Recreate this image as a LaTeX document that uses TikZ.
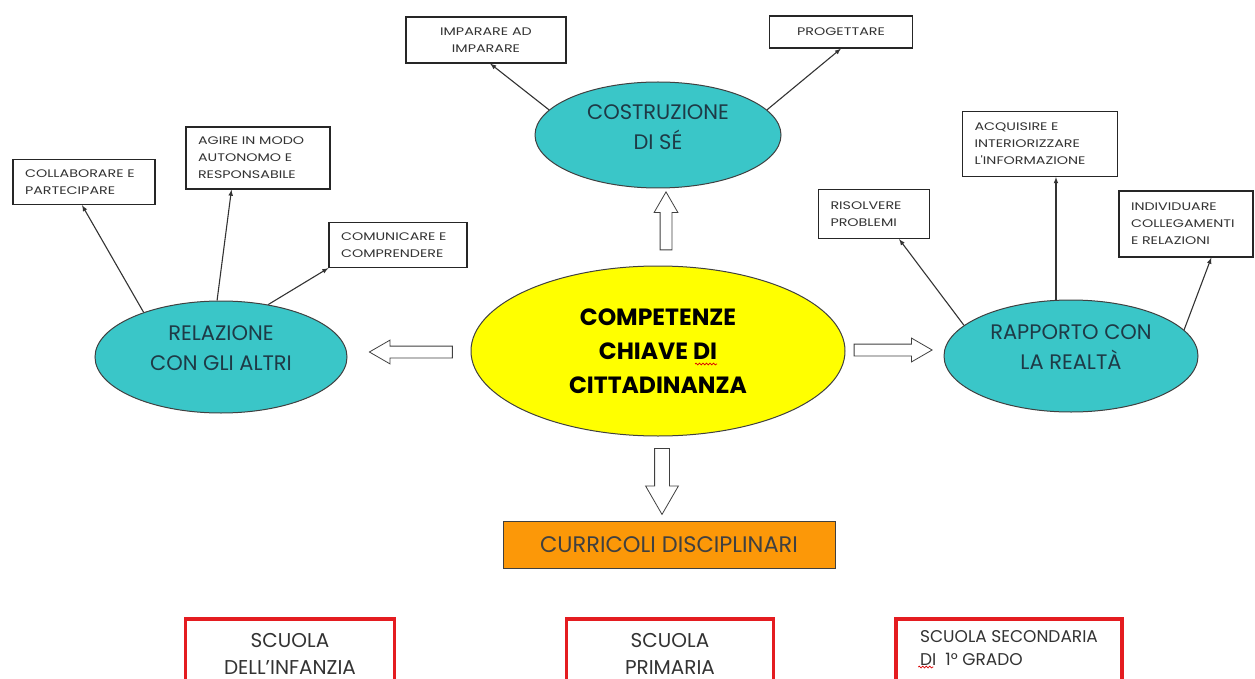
\documentclass[tikz,border=0pt]{standalone}
\usepackage{fontspec}
\setmainfont{Poppins}
\newfontfamily\boxfont{Poppins}[FakeStretch=1.3]
\usepackage{tikz}
\usetikzlibrary{shapes.geometric,shapes.arrows,decorations.pathmorphing}
\definecolor{bubbleteal}{RGB}{58,198,200}
\definecolor{bubbletext}{RGB}{30,58,70}
\definecolor{coreyellow}{RGB}{255,255,0}
\definecolor{curorange}{RGB}{252,152,8}
\definecolor{schoolred}{RGB}{228,28,32}

\begin{document}
\begin{tikzpicture}[x=1pt,y=-1pt, >=latex,
    bubble/.style={ellipse, draw=black!75, line width=1pt, fill=bubbleteal,
        text=bubbletext, align=center, inner sep=0pt, text depth=18pt,
        font=\fontsize{21}{30}\selectfont},
    box/.style={draw=black!85, line width=1.2pt, fill=white, align=left,
        inner xsep=12pt, text=black!80, font=\boxfont\fontsize{11}{17}\selectfont},
    school/.style={draw=schoolred, line width=3.5pt, fill=white, anchor=north,
        minimum height=70, text=black!80, align=center},
    hollow/.style={single arrow, draw=black!75, line width=0.8pt, fill=white,
        inner sep=5.5pt, single arrow head extend=6pt, single arrow tip angle=60,
        minimum height=#1},
    squiggle/.style={red!85!black, line width=0.7pt, decorate,
        decoration={snake, amplitude=0.9pt, segment length=3.5pt}}]
    \useasboundingbox (0,0) rectangle (1255,679);
    \clip (0,0) rectangle (1255,679);

    \node[bubble, fill=coreyellow, minimum width=374, minimum height=170, text=black,
        text depth=0pt, font=\bfseries\fontsize{23.5}{34}\selectfont] (core) at (658,351)
        {COMPETENZE\\CHIAVE DI\\CITTADINANZA};
    \node[bubble, minimum width=246, minimum height=106, text depth=15pt] (self) at (658,135)
        {COSTRUZIONE\\DI SÉ};
    \node[bubble, minimum width=252, minimum height=112] (rel) at (221,357)
        {RELAZIONE\\CON GLI ALTRI};
    \node[bubble, minimum width=254, minimum height=112] (real) at (1071,356)
        {RAPPORTO CON\\LA REALTÀ};

    \node[box, align=center, minimum width=160, minimum height=46] (learn) at (486,40)
        {IMPARARE AD\\IMPARARE};
    \node[box, minimum width=143, minimum height=32] (plan) at (841,32) {PROGETTARE};
    \node[box, text width=118, minimum width=142, minimum height=45] (collab) at (84,182)
        {COLLABORARE E\\PARTECIPARE};
    \node[box, text width=120, minimum width=144, minimum height=62] (agire) at (258,158)
        {AGIRE IN MODO\\AUTONOMO E\\RESPONSABILE};
    \node[box, text width=114, minimum width=138, minimum height=45] (comm) at (398,245)
        {COMUNICARE E\\COMPRENDERE};
    \node[box, text width=87, minimum width=111, minimum height=49] (solve) at (874,214)
        {RISOLVERE\\PROBLEMI};
    \node[box, text width=131, minimum width=155, minimum height=65] (info) at (1040,144)
        {ACQUISIRE E\\INTERIORIZZARE\\L'INFORMAZIONE};
    \node[box, text width=110, minimum width=134, minimum height=66] (links) at (1186,224)
        {INDIVIDUARE\\COLLEGAMENTI\\E RELAZIONI};

    \draw[->, line width=1.1pt, black!80] (self.167) -- (learn.-80);
    \draw[->, line width=1.1pt, black!80] (self.13) -- (plan.south);
    \draw[->, line width=1.1pt, black!80] (rel.150) -- (collab.-95);
    \draw[->, line width=1.1pt, black!80] (rel.94) -- (agire.-130);
    \draw[->, line width=1.1pt, black!80] (rel.48) -- (comm.south west);
    \draw[->, line width=1.1pt, black!80] (real.164) -- (solve.-45);
    \draw[->, line width=1.1pt, black!80] (real.105) -- (real.105 |- info.south);
    \draw[->, line width=1.1pt, black!80] (real.13) -- (links.-53);

    \node[hollow=58, rotate=90] (upA) at (666,226) {};
    \node[hollow=83, rotate=180] (leftA) at (416,352) {};
    \node[hollow=78] (rightA) at (888,350) {};
    \node[hollow=66, rotate=-90, inner sep=7pt, single arrow head extend=9pt]
        (downA) at (662,475) {};

    \node[draw=black!75, line width=1pt, fill=curorange, minimum width=332,
        minimum height=47, text=black!75, font=\fontsize{22.5}{26}\selectfont]
        (curr) at (669,545) {CURRICOLI DISCIPLINARI};

    \node[school, minimum width=209, font=\fontsize{20}{27}\selectfont] (infanzia)
        at (290,617) {SCUOLA\\DELL'INFANZIA};
    \node[school, minimum width=207, font=\fontsize{20}{27}\selectfont] (primaria)
        at (670,617) {SCUOLA\\PRIMARIA};
    \node[school, minimum width=226, align=left, text depth=12pt,
        font=\fontsize{17}{23}\selectfont] (secondaria) at (1009,617)
        {SCUOLA SECONDARIA\\DI\ \ 1° GRADO};

    \draw[squiggle] (core.center) ++(37,13) -- ++(22,0);
    \draw[squiggle] (secondaria.north west) ++(24,50) -- ++(15,0);
\end{tikzpicture}
\end{document}
